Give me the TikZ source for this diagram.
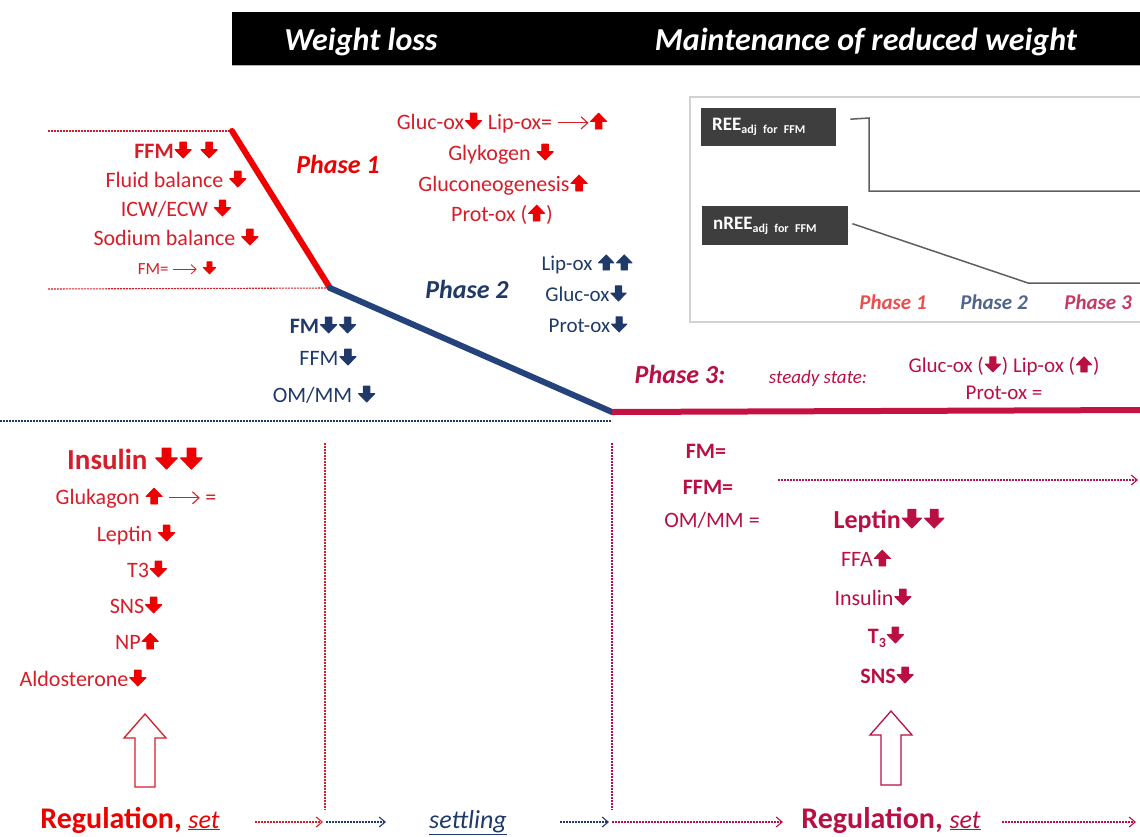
\documentclass[tikz,border=0pt]{standalone}
\usepackage{fontspec}
\setmainfont{Carlito}
\usetikzlibrary{arrows.meta}
\definecolor{cR}{RGB}{214,30,40}
\definecolor{cA}{RGB}{236,0,0}
\definecolor{cRl}{RGB}{240,0,0}
\definecolor{cB}{RGB}{31,58,105}
\definecolor{cBl}{RGB}{36,66,124}
\definecolor{cC}{RGB}{184,16,66}
\definecolor{cCl}{RGB}{196,18,66}
\definecolor{dbx}{RGB}{62,62,62}
\definecolor{gln}{RGB}{95,95,95}
\definecolor{iR}{RGB}{232,80,80}
\definecolor{iB}{RGB}{80,100,140}
\definecolor{iC}{RGB}{196,60,100}
\newcommand\dn[1]{\hspace{0.04em}\tikz[baseline=0pt,x=1em,y=1em]\filldraw[fill=#1,draw=#1,line width=0.04em,line join=round] (-0.15,0.72)--(0.15,0.72)--(0.15,0.38)--(0.37,0.38)--(0,0)--(-0.37,0.38)--(-0.15,0.38)--cycle;\hspace{0.04em}}
\newcommand\up[1]{\hspace{0.04em}\tikz[baseline=0pt,x=1em,y=1em]\filldraw[fill=#1,draw=#1,line width=0.04em,line join=round] (-0.15,0)--(0.15,0)--(0.15,0.34)--(0.37,0.34)--(0,0.72)--(-0.37,0.34)--(-0.15,0.34)--cycle;\hspace{0.04em}}
\newcommand\tharr[1]{\tikz[baseline=-0.28em,x=1em,y=1em]\draw[#1,line width=0.05em,-{Straight Barb[length=0.3em,width=0.55em]}] (0,0)--(1.4,0);}
\tikzset{
 lbl/.style={anchor=base, inner sep=0pt, font=\fontsize{22}{26}\selectfont},
 sml/.style={anchor=base, inner sep=0pt, font=\fontsize{21}{24}\selectfont},
 tR/.style={text=cR}, tB/.style={text=cB}, tC/.style={text=cC},
 phase/.style={anchor=base, inner sep=0pt, font=\fontsize{26}{30}\selectfont\bfseries\itshape},
 bigb/.style={anchor=base, inner sep=0pt, font=\fontsize{30}{33}\selectfont\bfseries},
 head/.style={anchor=base, inner sep=0pt, text=white, font=\fontsize{32}{36}\selectfont\bfseries\itshape},
 dotR/.style={draw=cR, line width=1.1pt, dash pattern=on 2pt off 1pt},
 dotB/.style={draw=cB, line width=1.1pt, dash pattern=on 2pt off 1pt},
 dotC/.style={draw=cC, line width=1.1pt, dash pattern=on 2pt off 1pt},
 tipd/.style={-{Straight Barb[length=6pt,width=10pt]}},
 dbox/.style={fill=dbx, text=white, anchor=north west, inner xsep=11pt, align=left, font=\fontsize{19}{22}\selectfont\bfseries},
 gline/.style={draw=gln, line width=1.5pt},
 hollow/.style={fill=white, line width=1.3pt, line join=miter},
}
\begin{document}
\begin{tikzpicture}[x=1pt,y=-1pt]
\useasboundingbox (0,0) rectangle (1140,836);
\clip (0,0) rectangle (1140,836);
% header
\fill[black] (232,12) rectangle (1145,65);
\draw[gray!60, line width=1pt] (232,65.5) -- (1145,65.5);
\node[head] (hwl) at (361,50) {Weight loss};
\node[head] (hmr) at (866,50) {Maintenance of reduced weight};

% inset
\draw[gray!35, line width=1.3pt, fill=white] (690,97) rectangle (1150,322);
\node[dbox, minimum height=38pt, text width=113pt] (ree) at (701,108) {REE\raisebox{-3pt}{\fontsize{12}{13}\selectfont adj for FFM}};
\node[dbox, minimum height=39pt, text width=124pt] (nree) at (702,206) {nREE\raisebox{-3pt}{\fontsize{12}{13}\selectfont adj for FFM}};
\draw[gline] ([xshift=14pt,yshift=8pt]ree.east) -- (869,118) -- (869,191) -- (1145,191);
\draw[gline] ([xshift=4pt,yshift=2pt]nree.east) -- (1028,283) -- (1145,283);
\node[anchor=base, inner sep=0pt, font=\fontsize{21}{24}\selectfont\bfseries\itshape, text=iR] (ip1) at (893,309) {Phase 1};
\node[anchor=base, inner sep=0pt, font=\fontsize{21}{24}\selectfont\bfseries\itshape, text=iB] (ip2) at (994,309) {Phase 2};
\node[anchor=base, inner sep=0pt, font=\fontsize{21}{24}\selectfont\bfseries\itshape, text=iC] (ip3) at (1098,309) {Phase 3};

% main curve
\coordinate (k0) at (232,131);
\coordinate (k1) at (330,288);
\coordinate (k2) at (612,412);
\coordinate (k3) at (1145,410);
\draw[dotR] (48,131) -- (k0);
\draw[dotR] (48,289) -- (k1);
\draw[dotB] (0,421) -- (612,421);
\draw[cRl, line width=6pt, line cap=round] (k0) -- (k1);
\draw[cBl, line width=6pt, line cap=round] (k1) -- (k2);
\draw[cCl, line width=6pt] (k2) -- (k3);
\fill[cBl] (k1) circle (3pt);

% phase 1 left list
\node[lbl,tR] (ffm1) at (176,158) {\textbf{FFM}\dn{cA}\hspace{7pt}\dn{cA}};
\node[lbl,tR] (fluid) at (176,187) {Fluid balance \dn{cA}};
\node[lbl,tR] (icw) at (176,216) {ICW/ECW \dn{cA}};
\node[lbl,tR] (sod) at (176,245) {Sodium balance \dn{cA}};
\node[anchor=base, inner sep=0pt, font=\fontsize{17}{19}\selectfont, text=cR] (fm1) at (177,274) {FM= \tharr{cR}\hspace{5pt}\dn{cA}};
\node[phase,text=cA] (ph1) at (338,173) {Phase 1};

% phase 1 top middle
\node[lbl,tR] (gl1) at (502,129) {Gluc-ox\dn{cA} Lip-ox= \tharr{cR}\up{cA}};
\node[lbl,tR] (glyk) at (501,160) {Glykogen \dn{cA}};
\node[lbl,tR] (gneo) at (503,191) {Gluconeogenesis\up{cA}};
\node[lbl,tR] (prox1) at (502,221) {Prot-ox (\up{cA})};

% phase 2
\node[phase,text=cB] (ph2) at (467,298) {Phase 2};
\node[sml,tB] (lip2) at (587,270) {Lip-ox \up{cB}\up{cB}};
\node[sml,tB] (gl2) at (586,301) {Gluc-ox\dn{cB}};
\node[sml,tB] (pr2) at (588,332) {Prot-ox\dn{cB}};
\node[lbl,tB] (fm2) at (323,333) {\textbf{FM}\dn{cB}\dn{cB}};
\node[lbl,tB] (ffm2) at (328,365) {FFM\dn{cB}};
\node[lbl,tB] (om2) at (324,402) {OM/MM \dn{cB}};

% phase 3
\node[phase,text=cC] (ph3) at (680,383) {Phase 3:};
\node[anchor=base, inner sep=0pt, font=\fontsize{19}{22}\selectfont\itshape, text=cC] (ss) at (818,383) {steady state:};
\node[sml,tC] (gl3) at (1004,372) {Gluc-ox (\dn{cC}) Lip-ox (\up{cC})};
\node[sml,tC] (pr3) at (1004,399) {Prot-ox =};

% regulation left
\node[anchor=base, inner sep=0pt, font=\fontsize{29}{32}\selectfont\bfseries, text=cR] (ins1) at (135,469) {Insulin \dn{cA}\dn{cA}};
\node[lbl,tR] (gluk) at (136,504) {Glukagon \up{cA} \tharr{cR} =};
\node[lbl,tR] (lep1) at (136,541) {Leptin \dn{cA}};
\node[lbl,tR] (t31) at (147,577) {T3\dn{cA}};
\node[lbl,tR] (sns1) at (136,613) {SNS\dn{cA}};
\node[lbl,tR] (np1) at (137,649) {NP\up{cA}};
\node[lbl,tR] (ald) at (83,686) {Aldosterone\dn{cA}};

% regulation right
\node[lbl,tC] (fm3) at (706,458) {\textbf{FM=}};
\node[lbl,tC] (ffm3) at (708,494) {\textbf{FFM=}};
\node[lbl,tC] (om3) at (712,527) {OM/MM =};
\node[anchor=base, inner sep=0pt, font=\fontsize{26}{30}\selectfont\bfseries, text=cC] (lep3) at (889,528) {Leptin\dn{cC}\dn{cC}};
\node[lbl,tC] (ffa) at (866,566) {FFA\up{cC}};
\node[lbl,tC] (ins3) at (873,605) {Insulin\dn{cC}};
\node[lbl,tC] (t33) at (886,643) {\textbf{T\raisebox{-4pt}{\fontsize{14}{16}\selectfont 3}}\dn{cC}};
\node[lbl,tC] (sns3) at (887,683) {\textbf{SNS}\dn{cC}};
\coordinate (r0) at (778,480);
\coordinate (r1) at (1138,480);
\draw[dotC,tipd] (r0) -- (r1);

% vertical separators
\draw[dotR] (325,443) -- (325,810);
\draw[dotC] (612,443) -- (612,810);

% hollow arrows
\draw[hollow, draw=cR] (145,714) -- (166,738) -- (155,738) -- (155,787) -- (135,787) -- (135,738) -- (124,738) -- cycle;
\draw[hollow, draw=cC] (891,711) -- (912,735) -- (901,735) -- (901,785) -- (881,785) -- (881,735) -- (870,735) -- cycle;

% bottom row
\node[bigb,text=cA] (reg1) at (130,828) {Regulation, {\mdseries\itshape\fontsize{26}{28}\selectfont\underline{set}}};
\node[anchor=base, inner sep=0pt, font=\fontsize{26}{30}\selectfont\itshape, text=cB] (settl) at (468,828) {\underline{settling}};
\node[bigb,tC] (reg3) at (891,828) {Regulation, {\mdseries\itshape\fontsize{26}{28}\selectfont\underline{set}}};
\coordinate (b1) at (255,822);
\coordinate (b2) at (323,822);
\coordinate (b3) at (326,822);
\coordinate (b4) at (386,822);
\coordinate (b5) at (560,822);
\coordinate (b6) at (609,822);
\coordinate (b7) at (612,822);
\coordinate (b8) at (783,822);
\coordinate (b9) at (1002,822);
\coordinate (b10) at (1136,822);
\draw[dotR,tipd] (b1) -- (b2);
\draw[dotB,tipd] (b3) -- (b4);
\draw[dotB,tipd] (b5) -- (b6);
\draw[dotC,tipd] (b7) -- (b8);
\draw[dotC,tipd] (b9) -- (b10);
\end{tikzpicture}
\end{document}
